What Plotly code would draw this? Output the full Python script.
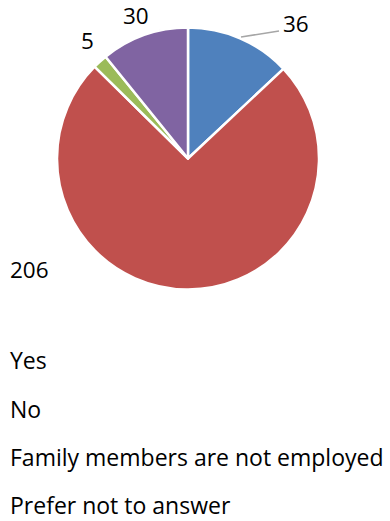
import plotly.graph_objects as go

# Survey responses
categories = ["Yes", "No", "Family members are not employed", "Prefer not to answer"]
counts = [36, 206, 5, 30]
colors = ["#4F81BD", "#C0504D", "#9BBB59", "#8064A2"]

W, H = 390, 521
FONT = "Open Sans"
FS = 22.5
LEGEND_FS = 23

# pie placement in pixels
cx, cy, r = 188, 158.5, 131


def px(x):
    return x / W


def py(y):
    return 1 - y / H


fig = go.Figure(go.Pie(
    labels=categories,
    values=counts,
    sort=False,
    direction="clockwise",
    rotation=0,
    marker=dict(colors=colors, line=dict(color="white", width=2.5)),
    textinfo="none",
    hoverinfo="label+value",
    showlegend=False,
    domain=dict(x=[px(cx - r), px(cx + r)], y=[py(cy + r), py(cy - r)]),
))

# value labels next to the slices
label_pos = [(296, 24), (29, 269), (87, 41), (136, 16)]
for v, (lx, ly) in zip(counts, label_pos):
    fig.add_annotation(x=px(lx), y=py(ly), xref="paper", yref="paper",
                       text=str(v), showarrow=False, xanchor="center", yanchor="middle",
                       font=dict(family=FONT, size=FS, color="black"))

# leader line for the "Yes" label
fig.add_shape(type="line", xref="paper", yref="paper",
              x0=px(241), y0=py(37), x1=px(279), y1=py(31),
              line=dict(color="#A6A6A6", width=1.5))

# text-only legend below the pie
legend_y = [360, 408.5, 457, 505]
for name, ly in zip(categories, legend_y):
    fig.add_annotation(x=px(8), y=py(ly), xref="paper", yref="paper",
                       text=name, showarrow=False, xanchor="left", yanchor="middle",
                       font=dict(family=FONT, size=LEGEND_FS, color="black"))

fig.update_layout(
    width=W, height=H,
    margin=dict(l=0, r=0, t=0, b=0),
    paper_bgcolor="white",
    plot_bgcolor="white",
)

fig.write_html("out.html")
